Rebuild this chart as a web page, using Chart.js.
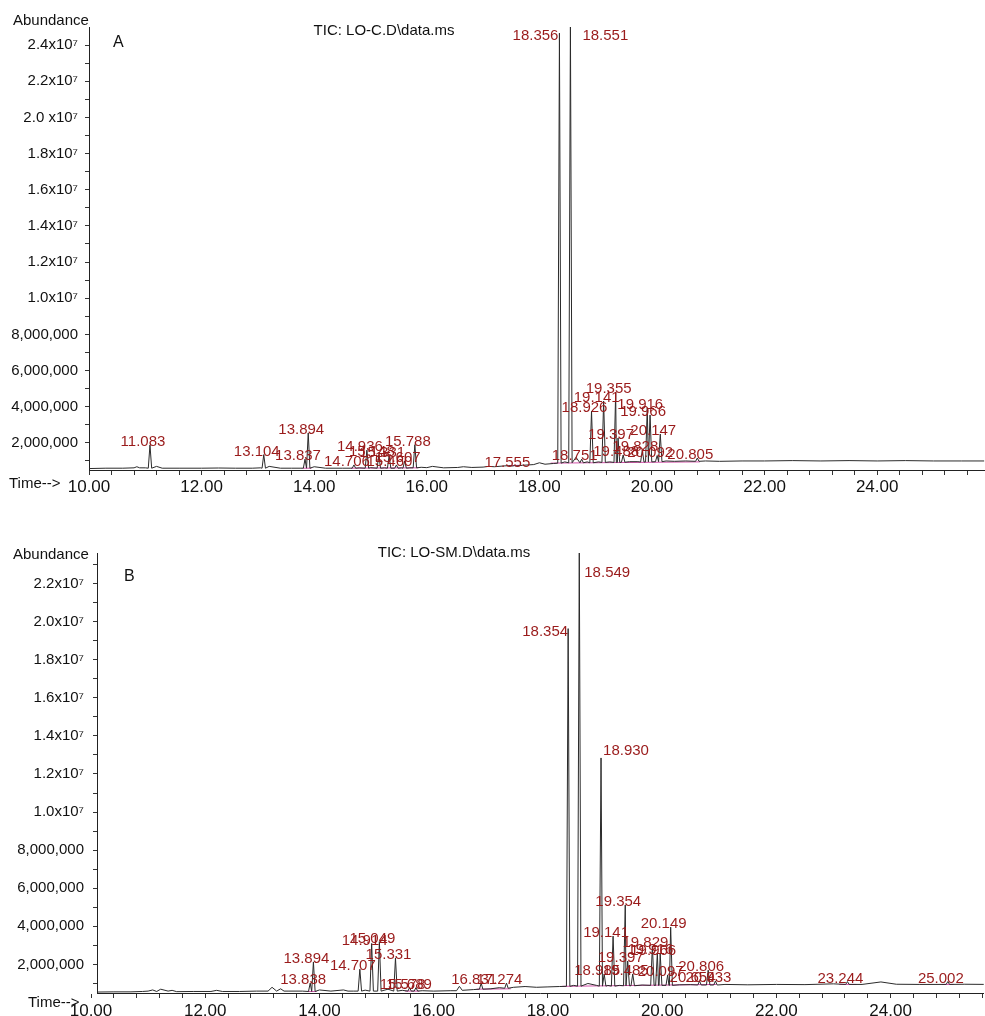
<!DOCTYPE html>
<html>
<head>
<meta charset="utf-8">
<script src="https://cdn.jsdelivr.net/npm/chart.js@4.4.1/dist/chart.umd.min.js"></script>
<style>
  html, body { margin: 0; padding: 0; background: #ffffff; }
  #wrap { position: relative; width: 985px; height: 1016px; overflow: hidden; }
  canvas { position: absolute; left: 0; }
  #chartA { top: 0; }
  #chartB { top: 510px; }
</style>
</head>
<body>
<div id="wrap">
  <canvas id="chartA" width="985" height="500"></canvas>
  <canvas id="chartB" width="985" height="506"></canvas>
</div>
<script>
// ---------- Panel A: TIC: LO-C.D\data.ms (abundance in millions) ----------
const peakRtA = ['11.083','13.104','13.837','13.894','14.706','14.936','15.148','15.331','15.460','15.607','15.788',
                 '17.555','18.356','18.551','18.751','18.926','19.141','19.355','19.397','19.488','19.828','19.916',
                 '19.966','20.092','20.147','20.805'];
const peakHeightA = [1.88,1.35,1.10,2.55,0.78,1.60,1.35,1.30,0.78,1.00,1.90,
                     0.74,24.66,25.30,1.10,3.76,4.31,4.81,2.27,1.33,1.60,3.93,
                     3.54,1.30,2.49,1.16];
const peakBaseA = [0.60,0.60,0.60,0.60,0.60,0.60,0.60,0.60,0.60,0.60,0.62,
                   0.72,0.88,0.90,0.90,0.90,0.92,0.92,0.92,0.93,0.94,0.95,
                   0.95,0.96,0.96,0.98];
const baseTimeA = [10.0,10.3,10.6,10.8,10.85,10.9,11.0,11.2,11.3,11.6,12.0,12.3,12.6,12.9,13.05,13.2,13.4,13.6,13.75,
                   14.0,14.2,14.5,14.65,14.8,15.0,15.25,15.55,15.7,15.9,16.0,16.1,16.3,16.55,16.65,16.8,17.0,17.1,
                   17.2,17.35,17.45,17.7,17.9,18.0,18.1,18.25,18.45,18.65,18.85,19.05,19.25,19.6,19.75,20.25,20.4,
                   20.6,20.95,21.2,21.6,22.0,22.5,23.0,23.5,24.0,24.5,25.0,25.5,25.9];
const baseLevelA = [0.58,0.60,0.60,0.62,0.68,0.62,0.62,0.70,0.60,0.60,0.60,0.61,0.60,0.60,0.62,0.70,0.60,0.60,0.60,
                    0.68,0.60,0.60,0.60,0.62,0.63,0.62,0.62,0.62,0.65,0.63,0.70,0.62,0.64,0.68,0.64,0.66,0.70,
                    0.68,0.72,0.74,0.76,0.80,0.90,0.82,0.86,0.95,1.20,0.95,0.95,0.95,0.96,0.96,1.00,0.98,
                    1.00,1.00,0.98,1.00,1.00,1.02,1.00,1.02,1.00,1.02,1.00,1.00,1.00];
const markTimeA = [13.80,13.95,null,14.65,15.85,null,17.45,17.65,null,18.20,20.85];
const markLevelA = [0.60,0.60,null,0.60,0.62,null,0.74,0.76,null,0.88,0.95];
const yTickValuesA = [2,4,6,8,10,12,14,16,18,20,22,24];
const yTickLabelsA = ['2,000,000','4,000,000','6,000,000','8,000,000','1.0x10⁷','1.2x10⁷','1.4x10⁷',
                      '1.6x10⁷','1.8x10⁷','2.0 x10⁷','2.2x10⁷','2.4x10⁷'];

// ---------- Panel B: TIC: LO-SM.D\data.ms (abundance in millions) ----------
const peakRtB = ['13.838','13.894','14.707','14.914','15.049','15.331','15.578','15.689','16.831','17.274',
                 '18.354','18.549','18.930','18.985','19.141','19.354','19.397','19.485','19.829','19.916',
                 '19.966','20.097','20.149','20.654','20.806','20.933','23.244','25.002'];
const peakHeightB = [1.02,2.13,1.75,3.10,3.20,2.34,0.78,0.78,1.02,1.02,
                     19.63,23.80,12.84,1.50,3.49,5.12,2.18,1.50,2.97,2.60,
                     2.55,1.45,3.96,1.13,1.70,1.13,1.10,1.10];
const peakBaseB = [0.58,0.58,0.60,0.60,0.60,0.60,0.60,0.60,0.70,0.75,
                   0.85,0.86,0.86,0.86,0.86,0.88,0.88,0.88,0.90,0.90,
                   0.90,0.90,0.90,0.92,0.92,0.92,0.95,0.95];
const baseTimeB = [10.1,10.4,10.7,10.9,11.0,11.08,11.15,11.22,11.35,11.42,11.5,11.8,12.1,12.2,12.3,12.6,12.9,13.1,
                   13.17,13.25,13.32,13.38,13.45,13.7,14.0,14.2,14.42,14.5,14.6,14.8,15.2,15.45,15.8,16.0,16.3,
                   16.4,16.45,16.5,16.7,17.0,17.15,17.4,17.6,17.8,18.0,18.2,18.45,18.7,18.85,19.05,19.25,19.65,
                   20.3,20.5,21.1,21.5,22.0,22.5,23.0,23.5,23.83,24.1,24.5,25.3,25.7];
const baseLevelB = [0.55,0.56,0.56,0.58,0.60,0.66,0.58,0.70,0.60,0.64,0.57,0.58,0.58,0.64,0.58,0.58,0.60,0.60,
                    0.80,0.60,0.72,0.60,0.60,0.60,0.66,0.60,0.66,0.60,0.60,0.65,0.70,0.64,0.62,0.60,0.62,
                    0.62,0.85,0.64,0.68,0.72,0.78,0.80,0.84,0.80,0.82,0.84,0.90,1.00,0.90,0.90,0.90,0.92,
                    0.93,0.94,0.95,0.93,0.95,0.94,0.98,0.95,1.08,0.96,0.95,0.96,0.95];
const markTimeB = [13.80,13.95,null,15.50,15.75,null,16.75,17.35,null,18.25,20.95,null,23.10,23.40,null,24.90,25.10];
const markLevelB = [0.58,0.58,null,0.60,0.60,null,0.70,0.72,null,0.85,0.95,null,0.95,0.95,null,0.95,0.95];
const yTickValuesB = [2,4,6,8,10,12,14,16,18,20,22];
const yTickLabelsB = ['2,000,000','4,000,000','6,000,000','8,000,000','1.0x10⁷','1.2x10⁷','1.4x10⁷',
                      '1.6x10⁷','1.8x10⁷','2.0x10⁷','2.2x10⁷'];

const xTickLabels = ['10.00','12.00','14.00','16.00','18.00','20.00','22.00','24.00'];

// ---------- helpers ----------
const MIL = 1e6;
const FONT = "'Liberation Sans', Arial, Helvetica, sans-serif";
const LABEL_RED = '#9a1b1b';
const HALF_WIDTH = 0.03; // peak half-width at its base, minutes

// Merge the peaks (base-apex-base) with the baseline points into one trace.
function buildTrace(rts, heights, bases, baseT, baseV) {
  const pts = [];
  rts.forEach((rt, i) => {
    const t = parseFloat(rt);
    pts.push({ x: t - HALF_WIDTH, y: bases[i] * MIL });
    pts.push({ x: t, y: heights[i] * MIL });
    pts.push({ x: t + HALF_WIDTH, y: bases[i] * MIL });
  });
  baseT.forEach((t, i) => {
    const inside = rts.some(rt => Math.abs(parseFloat(rt) - t) <= HALF_WIDTH);
    if (!inside) pts.push({ x: t, y: baseV[i] * MIL });
  });
  pts.sort((a, b) => a.x - b.x);
  return pts;
}

function buildMarks(times, levels) {
  return times.map((t, i) => ({ x: t, y: levels[i] === null ? null : levels[i] * MIL }));
}

// Peak retention-time labels, drawn next to each apex.
const peakLabelPlugin = {
  id: 'peakLabels',
  afterDatasetsDraw(chart, args, opts) {
    const { ctx, chartArea } = chart;
    const xs = chart.scales.x, ys = chart.scales.y;
    ctx.save();
    ctx.font = '15px ' + FONT;
    ctx.fillStyle = LABEL_RED;
    ctx.textBaseline = 'middle';
    opts.rts.forEach((rt, i) => {
      const st = Object.assign({ align: 'center', dx: -7, dy: -3 }, opts.styles[rt] || {});
      const px = xs.getPixelForValue(parseFloat(rt));
      const py = Math.max(chartArea.top, ys.getPixelForValue(opts.heights[i] * MIL));
      ctx.textAlign = st.align;
      ctx.fillText(rt, px + st.dx, py + st.dy);
    });
    ctx.restore();
  }
};

// Axis captions, panel letter and run title.
const captionPlugin = {
  id: 'captions',
  afterDraw(chart, args, opts) {
    const ctx = chart.ctx;
    ctx.save();
    ctx.fillStyle = '#111';
    ctx.textBaseline = 'middle';
    opts.items.forEach(it => {
      ctx.font = it.size + 'px ' + FONT;
      ctx.textAlign = it.align || 'left';
      ctx.fillText(it.text, it.x, it.y);
    });
    ctx.restore();
  }
};

function makeChart(canvasId, cfg) {
  const ctx = document.getElementById(canvasId).getContext('2d');
  return new Chart(ctx, {
    type: 'line',
    data: {
      datasets: [
        {
          data: buildMarks(cfg.markT, cfg.markV),
          borderColor: '#d250a8',
          borderWidth: 1,
          pointRadius: 0,
          spanGaps: false,
          order: 2
        },
        {
          data: buildTrace(cfg.rts, cfg.heights, cfg.bases, cfg.baseT, cfg.baseV),
          borderColor: '#2b2b2b',
          borderWidth: 1,
          pointRadius: 0,
          tension: 0,
          order: 1
        }
      ]
    },
    options: {
      responsive: false,
      animation: false,
      devicePixelRatio: 1,
      layout: { padding: { top: cfg.padTop, right: 0, bottom: 0, left: 0 } },
      plugins: {
        legend: { display: false },
        tooltip: { enabled: false },
        peakLabels: { rts: cfg.rts, heights: cfg.heights, styles: cfg.labelStyles },
        captions: { items: cfg.captions }
      },
      scales: {
        x: {
          type: 'linear',
          min: cfg.xMin,
          max: cfg.xMax,
          afterFit: s => { s.height = cfg.xAxisHeight; },
          afterBuildTicks: s => {
            const ticks = [];
            for (let i = 0; ; i++) {
              const v = Math.round((10 + 0.4 * i) * 10) / 10;
              if (v > cfg.xMax) break;
              ticks.push({ value: v });
            }
            s.ticks = ticks;
          },
          grid: { display: true, drawOnChartArea: false, drawTicks: true, tickLength: 5, color: '#333' },
          border: { display: true, color: '#222', width: 1 },
          ticks: {
            autoSkip: false,
            maxRotation: 0,
            padding: cfg.xTickPad,
            color: '#111',
            font: { family: FONT, size: 17 },
            callback: v => {
              const lbl = Number(v).toFixed(2);
              return xTickLabels.includes(lbl) ? lbl : '';
            }
          }
        },
        y: {
          type: 'linear',
          min: cfg.yMin * MIL,
          max: cfg.yMax * MIL,
          afterFit: s => { s.width = cfg.yAxisWidth; },
          afterBuildTicks: s => {
            const ticks = [];
            for (let m = 1; m <= cfg.yTickTop; m++) ticks.push({ value: m * MIL });
            s.ticks = ticks;
          },
          grid: { display: true, drawOnChartArea: false, drawTicks: true, tickLength: 4, color: '#333' },
          border: { display: true, color: '#222', width: 1 },
          ticks: {
            autoSkip: false,
            padding: cfg.yTickPad,
            color: '#111',
            font: { family: FONT, size: 15 },
            callback: v => {
              const m = Math.round(v / MIL);
              const idx = cfg.yTickValues.indexOf(m);
              return idx >= 0 ? cfg.yTickLabels[idx] : '';
            }
          }
        }
      }
    },
    plugins: [peakLabelPlugin, captionPlugin]
  });
}

makeChart('chartA', {
  rts: peakRtA, heights: peakHeightA, bases: peakBaseA,
  baseT: baseTimeA, baseV: baseLevelA, markT: markTimeA, markV: markLevelA,
  yTickValues: yTickValuesA, yTickLabels: yTickLabelsA, yTickTop: 24,
  xMin: 10, xMax: 25.915, yMin: 0.5, yMax: 25,
  padTop: 27, xAxisHeight: 30, yAxisWidth: 89, xTickPad: 2, yTickPad: 7,
  labelStyles: {
    '18.356': { align: 'right', dx: -1, dy: 3 },
    '18.551': { align: 'left', dx: 12, dy: 9 }
  },
  captions: [
    { text: 'Abundance', x: 13, y: 21, size: 15 },
    { text: 'A', x: 113, y: 43, size: 16 },
    { text: 'TIC: LO-C.D\\data.ms', x: 384, y: 31, size: 15, align: 'center' },
    { text: 'Time-->', x: 9, y: 484, size: 15 }
  ]
});

makeChart('chartB', {
  rts: peakRtB, heights: peakHeightB, bases: peakBaseB,
  baseT: baseTimeB, baseV: baseLevelB, markT: markTimeB, markV: markLevelB,
  yTickValues: yTickValuesB, yTickLabels: yTickLabelsB, yTickTop: 23,
  xMin: 10.105, xMax: 25.63, yMin: 0.5, yMax: 23.6,
  padTop: 43, xAxisHeight: 23, yAxisWidth: 97, xTickPad: 3, yTickPad: 9,
  labelStyles: {
    '18.354': { align: 'right', dx: 0, dy: 3 },
    '18.549': { align: 'left', dx: 5, dy: 20 },
    '18.930': { align: 'left', dx: 2, dy: -7 }
  },
  captions: [
    { text: 'Abundance', x: 13, y: 45, size: 15 },
    { text: 'B', x: 124, y: 67, size: 16 },
    { text: 'TIC: LO-SM.D\\data.ms', x: 454, y: 43, size: 15, align: 'center' },
    { text: 'Time-->', x: 28, y: 493, size: 15 }
  ]
});
</script>
</body>
</html>
